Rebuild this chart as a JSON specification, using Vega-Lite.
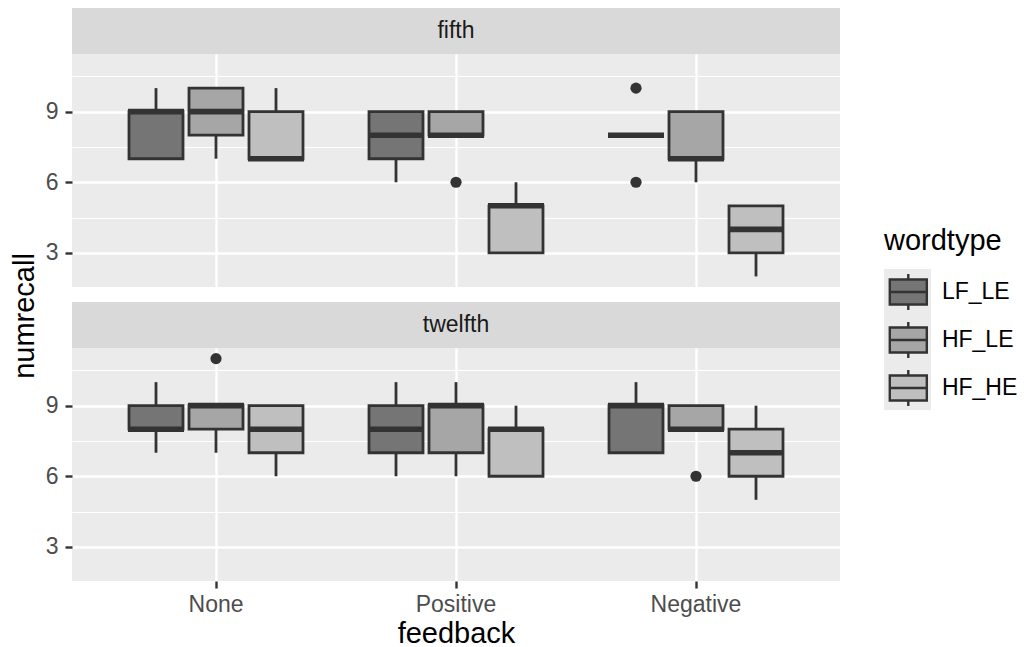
{
  "$schema": "https://vega.github.io/schema/vega-lite/v6.json",
  "background": "white",
  "padding": {"left": 10, "top": 8, "right": 0, "bottom": 0},
  "config": {
    "font": "Liberation Sans",
    "view": {"stroke": null},
    "axis": {"domain": false, "labelFontSize": 23, "labelColor": "#4d4d4d", "tickColor": "#333333", "tickWidth": 2.4, "tickSize": 7, "gridColor": "#ffffff", "gridWidth": 2.4, "titleFontSize": 29, "titleColor": "#000000", "titleFontWeight": "normal"},
    "legend": {"padding": 0}
  },
  "datasets": {
    "boxes": [
      {"session": "fifth", "feedback": "None", "wordtype": "LF_LE", "lower": 7, "q1": 7, "median": 9, "q3": 9, "upper": 10},
      {"session": "fifth", "feedback": "None", "wordtype": "HF_LE", "lower": 7, "q1": 8, "median": 9, "q3": 10, "upper": 10},
      {"session": "fifth", "feedback": "None", "wordtype": "HF_HE", "lower": 7, "q1": 7, "median": 7, "q3": 9, "upper": 10},
      {"session": "fifth", "feedback": "Positive", "wordtype": "LF_LE", "lower": 6, "q1": 7, "median": 8, "q3": 9, "upper": 9},
      {"session": "fifth", "feedback": "Positive", "wordtype": "HF_LE", "lower": 8, "q1": 8, "median": 8, "q3": 9, "upper": 9},
      {"session": "fifth", "feedback": "Positive", "wordtype": "HF_HE", "lower": 3, "q1": 3, "median": 5, "q3": 5, "upper": 6},
      {"session": "fifth", "feedback": "Negative", "wordtype": "LF_LE", "lower": 8, "q1": 8, "median": 8, "q3": 8, "upper": 8},
      {"session": "fifth", "feedback": "Negative", "wordtype": "HF_LE", "lower": 6, "q1": 7, "median": 7, "q3": 9, "upper": 9},
      {"session": "fifth", "feedback": "Negative", "wordtype": "HF_HE", "lower": 2, "q1": 3, "median": 4, "q3": 5, "upper": 5},
      {"session": "twelfth", "feedback": "None", "wordtype": "LF_LE", "lower": 7, "q1": 8, "median": 8, "q3": 9, "upper": 10},
      {"session": "twelfth", "feedback": "None", "wordtype": "HF_LE", "lower": 7, "q1": 8, "median": 9, "q3": 9, "upper": 9},
      {"session": "twelfth", "feedback": "None", "wordtype": "HF_HE", "lower": 6, "q1": 7, "median": 8, "q3": 9, "upper": 9},
      {"session": "twelfth", "feedback": "Positive", "wordtype": "LF_LE", "lower": 6, "q1": 7, "median": 8, "q3": 9, "upper": 10},
      {"session": "twelfth", "feedback": "Positive", "wordtype": "HF_LE", "lower": 6, "q1": 7, "median": 9, "q3": 9, "upper": 10},
      {"session": "twelfth", "feedback": "Positive", "wordtype": "HF_HE", "lower": 6, "q1": 6, "median": 8, "q3": 8, "upper": 9},
      {"session": "twelfth", "feedback": "Negative", "wordtype": "LF_LE", "lower": 7, "q1": 7, "median": 9, "q3": 9, "upper": 10},
      {"session": "twelfth", "feedback": "Negative", "wordtype": "HF_LE", "lower": 8, "q1": 8, "median": 8, "q3": 9, "upper": 9},
      {"session": "twelfth", "feedback": "Negative", "wordtype": "HF_HE", "lower": 5, "q1": 6, "median": 7, "q3": 8, "upper": 9}
    ],
    "outliers": [
      {"session": "fifth", "feedback": "Positive", "wordtype": "HF_LE", "value": 6},
      {"session": "fifth", "feedback": "Negative", "wordtype": "LF_LE", "value": 10},
      {"session": "fifth", "feedback": "Negative", "wordtype": "LF_LE", "value": 6},
      {"session": "twelfth", "feedback": "None", "wordtype": "HF_LE", "value": 11},
      {"session": "twelfth", "feedback": "Negative", "wordtype": "HF_LE", "value": 6}
    ]
  },
  "spacing": 0,
  "bounds": "flush",
  "vconcat": [
    {
      "width": 768, "height": 46,
      "view": {"fill": "#d9d9d9", "stroke": null},
      "data": {"values": [{"label": "fifth"}]},
      "mark": {"type": "text", "fontSize": 23, "color": "#1a1a1a", "baseline": "middle", "align": "center"},
      "encoding": {"text": {"field": "label", "type": "nominal"}}
    },
    {
      "width": 768, "height": 233,
      "view": {"fill": "#ebebeb", "stroke": null},
      "encoding": {
        "x": {"field": "feedback", "type": "nominal", "scale": {"domain": ["None", "Positive", "Negative"], "paddingInner": 0.25, "paddingOuter": 0.225}, "axis": {"grid": true, "labels": false, "ticks": false, "title": null, "bandPosition": 0.5}},
        "xOffset": {"field": "wordtype", "type": "nominal", "scale": {"domain": ["LF_LE", "HF_LE", "HF_HE"], "paddingInner": 0.1, "paddingOuter": 0.05}}
      },
      "layer": [
        {
          "data": {"name": "boxes"},
          "transform": [{"filter": "datum.session === 'fifth'"}],
          "mark": {"type": "rule", "color": "#333333", "strokeWidth": 2.8},
          "encoding": {
            "y": {"field": "lower", "type": "quantitative", "scale": {"domain": [1.55, 11.45], "nice": false, "zero": false}, "axis": {"values": [3, 6, 9], "labelPadding": 7, "title": "numrecall", "titleAngle": -90, "titleX": -39, "titleY": 261.5, "titleBaseline": "alphabetic", "titleAlign": "center"}},
            "y2": {"field": "upper"},
            "opacity": {"field": "feedback", "type": "ordinal", "scale": {"type": "ordinal", "domain": ["None", "Positive", "Negative"], "range": [1, 1, 1]},
              "legend": {"title": null, "orient": "none", "legendX": 812, "legendY": 261, "zindex": 0, "rowPadding": 0, "symbolOffset": 0, "symbolSize": 2209, "symbolType": "M-1,-1H1V1H-1Z", "symbolFillColor": "#ebebeb", "symbolStrokeColor": "#ebebeb", "symbolStrokeWidth": 0, "labelExpr": "''", "labelFontSize": 1, "labelOffset": 0}}
          }
        },
        {
          "data": {"name": "boxes"},
          "transform": [{"filter": "datum.session === 'fifth'"}],
          "mark": {"type": "bar", "stroke": "#333333", "strokeWidth": 2.8, "opacity": 1},
          "encoding": {
            "y": {"field": "q1", "type": "quantitative", "axis": {"orient": "right", "values": [4.5, 7.5, 10.5], "grid": true, "gridWidth": 1.2, "labels": false, "ticks": false, "title": null}},
            "y2": {"field": "q3"},
            "fill": {"field": "wordtype", "type": "nominal", "scale": {"domain": ["LF_LE", "HF_LE", "HF_HE"], "range": ["#757575", "#a6a6a6", "#bfbfbf"]},
              "legend": {"title": "wordtype", "orient": "none", "legendX": 812, "legendY": 219, "zindex": 1, "titleFontSize": 29, "titleColor": "#000000", "titleFontWeight": "normal", "titlePadding": 16, "labelFontSize": 23, "labelColor": "#000000", "labelOffset": 13.6, "rowPadding": 0, "symbolOffset": 4.3, "symbolSize": 1399, "symbolStrokeColor": "#333333", "symbolStrokeWidth": 2.4, "symbolOpacity": 1,
                "symbolType": "M-1,-1M1,1M-0.99,-0.668H0.99V0.668H-0.99ZM-0.99,0H0.99M0,-0.668V-0.963M0,0.668V0.963"}}
          }
        },
        {
          "data": {"name": "boxes"},
          "transform": [{"filter": "datum.session === 'fifth'"}],
          "mark": {"type": "tick", "color": "#333333", "thickness": 5.6, "size": 56, "opacity": 1},
          "encoding": {"y": {"field": "median", "type": "quantitative", "axis": null}}
        },
        {
          "data": {"name": "outliers"},
          "transform": [{"filter": "datum.session === 'fifth'"}],
          "mark": {"type": "point", "filled": true, "color": "#333333", "size": 125, "opacity": 1},
          "encoding": {"y": {"field": "value", "type": "quantitative", "axis": null}}
        }
      ],
      "resolve": {"axis": {"y": "independent"}}
    },
    {
      "width": 768, "height": 15,
      "data": {"values": []},
      "mark": "point"
    },
    {
      "width": 768, "height": 46,
      "view": {"fill": "#d9d9d9", "stroke": null},
      "data": {"values": [{"label": "twelfth"}]},
      "mark": {"type": "text", "fontSize": 23, "color": "#1a1a1a", "baseline": "middle", "align": "center"},
      "encoding": {"text": {"field": "label", "type": "nominal"}}
    },
    {
      "width": 768, "height": 233,
      "view": {"fill": "#ebebeb", "stroke": null},
      "encoding": {
        "x": {"field": "feedback", "type": "nominal", "scale": {"domain": ["None", "Positive", "Negative"], "paddingInner": 0.25, "paddingOuter": 0.225}, "axis": {"grid": true, "title": "feedback", "labelAngle": 0, "labelBaseline": "alphabetic", "labelPadding": 23, "titleBaseline": "alphabetic", "titleY": 61, "bandPosition": 0.5}},
        "xOffset": {"field": "wordtype", "type": "nominal", "scale": {"domain": ["LF_LE", "HF_LE", "HF_HE"], "paddingInner": 0.1, "paddingOuter": 0.05}}
      },
      "layer": [
        {
          "data": {"name": "boxes"},
          "transform": [{"filter": "datum.session === 'twelfth'"}],
          "mark": {"type": "rule", "color": "#333333", "strokeWidth": 2.8},
          "encoding": {
            "y": {"field": "lower", "type": "quantitative", "scale": {"domain": [1.55, 11.45], "nice": false, "zero": false}, "axis": {"values": [3, 6, 9], "labelPadding": 7, "title": null}},
            "y2": {"field": "upper"},
            "opacity": {"field": "feedback", "type": "ordinal", "scale": {"type": "ordinal", "domain": ["None", "Positive", "Negative"], "range": [1, 1, 1]},
              "legend": {"title": null, "orient": "none", "legendX": 812, "legendY": 261, "zindex": 0, "rowPadding": 0, "symbolOffset": 0, "symbolSize": 2209, "symbolType": "M-1,-1H1V1H-1Z", "symbolFillColor": "#ebebeb", "symbolStrokeColor": "#ebebeb", "symbolStrokeWidth": 0, "labelExpr": "''", "labelFontSize": 1, "labelOffset": 0}}
          }
        },
        {
          "data": {"name": "boxes"},
          "transform": [{"filter": "datum.session === 'twelfth'"}],
          "mark": {"type": "bar", "stroke": "#333333", "strokeWidth": 2.8, "opacity": 1},
          "encoding": {
            "y": {"field": "q1", "type": "quantitative", "axis": {"orient": "right", "values": [4.5, 7.5, 10.5], "grid": true, "gridWidth": 1.2, "labels": false, "ticks": false, "title": null}},
            "y2": {"field": "q3"},
            "fill": {"field": "wordtype", "type": "nominal", "scale": {"domain": ["LF_LE", "HF_LE", "HF_HE"], "range": ["#757575", "#a6a6a6", "#bfbfbf"]},
              "legend": {"title": "wordtype", "orient": "none", "legendX": 812, "legendY": 219, "zindex": 1, "titleFontSize": 29, "titleColor": "#000000", "titleFontWeight": "normal", "titlePadding": 16, "labelFontSize": 23, "labelColor": "#000000", "labelOffset": 13.6, "rowPadding": 0, "symbolOffset": 4.3, "symbolSize": 1399, "symbolStrokeColor": "#333333", "symbolStrokeWidth": 2.4, "symbolOpacity": 1,
                "symbolType": "M-1,-1M1,1M-0.99,-0.668H0.99V0.668H-0.99ZM-0.99,0H0.99M0,-0.668V-0.963M0,0.668V0.963"}}
          }
        },
        {
          "data": {"name": "boxes"},
          "transform": [{"filter": "datum.session === 'twelfth'"}],
          "mark": {"type": "tick", "color": "#333333", "thickness": 5.6, "size": 56, "opacity": 1},
          "encoding": {"y": {"field": "median", "type": "quantitative", "axis": null}}
        },
        {
          "data": {"name": "outliers"},
          "transform": [{"filter": "datum.session === 'twelfth'"}],
          "mark": {"type": "point", "filled": true, "color": "#333333", "size": 125, "opacity": 1},
          "encoding": {"y": {"field": "value", "type": "quantitative", "axis": null}}
        }
      ],
      "resolve": {"axis": {"y": "independent"}}
    }
  ]
}
